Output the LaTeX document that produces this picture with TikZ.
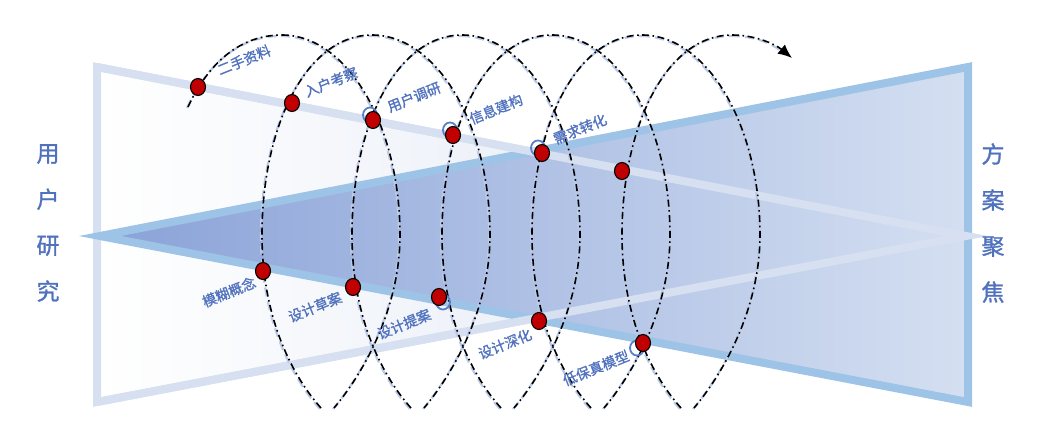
\documentclass[tikz,border=0pt]{standalone}
\usepackage{fontspec}
\setmainfont[AutoFakeBold=1.2]{Noto Sans CJK SC}
\usetikzlibrary{arrows.meta,positioning,shapes.geometric}
\definecolor{usrline}{RGB}{214,224,241}
\definecolor{usrfill}{RGB}{218,226,241}
\definecolor{solline}{RGB}{157,195,230}
\definecolor{soldark}{RGB}{138,162,216}
\definecolor{sollight}{RGB}{212,223,241}
\definecolor{txtblue}{RGB}{79,113,190}
\definecolor{ptred}{RGB}{192,0,0}
\definecolor{ringblue}{RGB}{90,128,200}
\definecolor{coilgray}{RGB}{186,202,232}
\tikzset{
  side/.style={font=\fontsize{23}{46}\selectfont\bfseries, text=txtblue, align=center, inner sep=0pt},
  tag/.style={font=\fontsize{14}{14}\selectfont\bfseries, text=txtblue, rotate=22, inner sep=1pt},
  pt/.style={ellipse, draw=black, line width=1.1pt, fill=ptred, minimum width=15pt, minimum height=17pt, inner sep=0pt},
  ring/.style={ellipse, draw=ringblue, line width=1.8pt, minimum width=14pt, minimum height=15pt, inner sep=0pt},
  usredge/.style={draw=usrline, line width=8pt, line join=miter},
  soledge/.style={draw=solline, line width=8pt, line join=miter},
  coilline/.style={line width=1.6pt, dash pattern=on 7pt off 3.5pt on 1.6pt off 3.5pt},
  coilshade/.style={draw=coilgray, line width=2.2pt, dash pattern=on 9pt off 5pt, shift={(-1,1)}},
}
% one turn of the spiral, #2 = x of its top
\newcommand{\coilarc}[2]{%
  \draw[#1] (#2,35) .. controls (#2+65,35) and (#2+118,125) .. (#2+118,235)
    .. controls (#2+118,310) and (#2+80,375) .. (#2+52,408);
  \draw[#1] (#2+39,408) .. controls (#2+12,378) and (#2-20,320) .. (#2-20,235)
    .. controls (#2-20,125) and (#2+25,35) .. (#2+90,35);}

\begin{document}
\begin{tikzpicture}[x=1pt, y=-1pt]
  \useasboundingbox (0,0) rectangle (1053,433);
  % the two wedges
  \fill[left color=white, right color=usrfill] (97,67) -- (97,402) -- (966,236) -- cycle;
  \draw[usredge] (97,67) -- (97,402) -- (966,236) -- cycle;
  \fill[left color=soldark, right color=sollight] (968,67) -- (968,402) -- (100,236) -- cycle;
  \draw[soledge] (968,67) -- (968,402) -- (100,236) -- cycle;
  \draw[usredge] (97,67) -- (966,236) -- (97,402);

  \node[side] (usr) at (48,223) {用\\户\\研\\究};
  \node[side] (sol) at (993,223) {方\\案\\聚\\焦};

  % spiral
  \draw[coilshade] (188,107) .. controls (205,70) and (235,35) .. (282,35);
  \coilarc{coilshade}{282}
  \coilarc{coilshade}{372}
  \coilarc{coilshade}{462}
  \coilarc{coilshade}{552}
  \coilarc{coilshade}{642}
  \draw[coilshade] (732,35) .. controls (755,35) and (772,42) .. (782,50);
  \draw[coilline] (188,107) .. controls (205,70) and (235,35) .. (282,35);
  \coilarc{coilline}{282}
  \coilarc{coilline}{372}
  \coilarc{coilline}{462}
  \coilarc{coilline}{552}
  \coilarc{coilline}{642}
  \draw[coilline, -{Latex[length=14pt,width=12pt]}] (732,35) .. controls (755,35) and (775,44) .. (792,58);

  % markers
  \node[ring] (r-diaoyan) at (370,115) {};
  \node[ring] (r-jiangou) at (450,130) {};
  \node[ring] (r-zhuanhua) at (538,148) {};
  \node[ring] (r-tian) at (443,302) {};
  \node[ring] (r-moxing) at (637,348) {};

  \node[pt] (ershou) at (198,87) {};
  \node[pt] (ruhu) at (292,103) {};
  \node[pt] (diaoyan) at (373,120) {};
  \node[pt] (jiangou) at (453,135) {};
  \node[pt] (zhuanhua) at (542,153) {};
  \node[pt] (last) at (622,171) {};
  \node[pt] (mohu) at (263,271) {};
  \node[pt] (caoan) at (353,287) {};
  \node[pt] (tian) at (439,297) {};
  \node[pt] (shenhua) at (539,321) {};
  \node[pt] (moxing) at (643,343) {};

  \node[tag] (t-ershou) at (244,60) {二手资料};
  \node[tag] (t-ruhu) at (331,82) {入户考察};
  \node[tag] (t-diaoyan) at (414,97) {用户调研};
  \node[tag] (t-jiangou) at (496,109) {信息建构};
  \node[tag] (t-zhuanhua) at (580,129) {需求转化};
  \node[tag] (t-mohu) at (229,292) {模糊概念};
  \node[tag] (t-caoan) at (315,307) {设计草案};
  \node[tag] (t-tian) at (404,324) {设计提案};
  \node[tag] (t-shenhua) at (505,344) {设计深化};
  \node[tag] (t-moxing) at (596,368) {低保真模型};
\end{tikzpicture}
\end{document}
